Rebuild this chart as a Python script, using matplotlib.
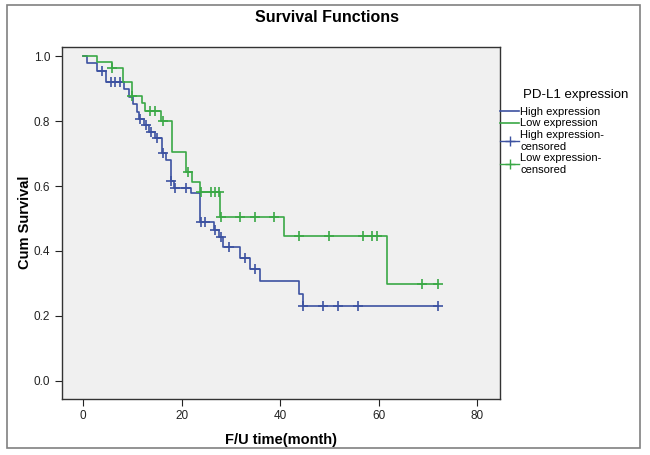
import matplotlib.pyplot as plt
import numpy as np
from matplotlib.lines import Line2D
from matplotlib.patches import Rectangle

plt.rcParams['font.family'] = ['Liberation Sans', 'DejaVu Sans']

# Kaplan-Meier steps (time in months, cumulative survival)
high_t = [0, 0.7, 2.9, 4.6, 8.2, 9.2, 10.2, 10.9, 11.4, 12.4, 13.3, 14.5, 15.9, 16.8,
          17.9, 18.5, 21.9, 23.8, 26.5, 27.5, 28.4, 31.9, 33.8, 35.8, 43.7, 44.6]
high_s = [1.0, 0.978, 0.955, 0.921, 0.898, 0.875, 0.852, 0.829, 0.806, 0.788, 0.767, 0.748,
          0.703, 0.681, 0.616, 0.593, 0.578, 0.488, 0.466, 0.444, 0.411, 0.378, 0.345,
          0.306, 0.268, 0.229]
high_cens = [3.9, 5.6, 6.5, 7.4, 11.6, 12.8, 13.8, 15.0, 16.2, 17.9, 18.7, 20.9, 23.9,
             24.8, 26.8, 27.9, 29.5, 32.9, 34.8, 44.7, 48.7, 51.7, 55.7, 72.0]

low_t = [0, 2.9, 5.8, 8.0, 9.9, 11.9, 12.6, 15.7, 18.0, 20.9, 22.1, 23.6, 27.8, 40.8, 61.7]
low_s = [1.0, 0.983, 0.965, 0.921, 0.878, 0.855, 0.832, 0.80, 0.706, 0.644, 0.613,
         0.581, 0.504, 0.447, 0.298]
low_cens = [5.9, 10.0, 13.6, 14.6, 16.1, 21.2, 23.9, 26.0, 26.8, 27.5, 27.9, 31.8, 34.8,
            38.8, 43.7, 49.8, 56.7, 58.6, 59.6, 68.8, 72.0]

end_time = 72.0
blue = '#3d52a1'
green = '#3aa846'


def surv_at(times, surv, t):
    idx = np.searchsorted(times, t, side='right') - 1
    return np.array(surv)[idx]


fig = plt.figure(figsize=(6.5, 4.55), dpi=100)
ax = fig.add_axes([0.0954, 0.124, 0.674, 0.773])
ax.set_facecolor('#f0f0f0')

for times, surv, cens, col in [(high_t, high_s, high_cens, blue),
                               (low_t, low_s, low_cens, green)]:
    tt = list(times) + [end_time]
    ss = list(surv) + [surv[-1]]
    ax.plot(tt, ss, drawstyle='steps-post', color=col, lw=1.2)
    ax.plot(cens, surv_at(times, surv, cens), ls='none', marker='+', ms=6.5,
            mew=1.2, color=col)

ax.set_xlim(-4.3, 84.6)
ax.set_ylim(-0.055, 1.029)
ax.set_xticks([0, 20, 40, 60, 80])
ax.set_yticks([0.0, 0.2, 0.4, 0.6, 0.8, 1.0])
ax.set_yticklabels(['0.0', '0.2', '0.4', '0.6', '0.8', '1.0'])
ax.tick_params(direction='out', length=5, labelsize=8.5, colors='#222222')
for s in ax.spines.values():
    s.set_color('#333333')
    s.set_linewidth(1.0)

ax.set_xlabel('F/U time(month)', fontsize=10.5, fontweight='bold', labelpad=8)
ax.set_ylabel('Cum Survival', fontsize=10.5, fontweight='bold', labelpad=1)

fig.text(0.503, 0.962, 'Survival Functions', ha='center', va='center',
         fontsize=11.5, fontweight='bold')

# legend, title placed separately
fig.text(0.885, 0.791, 'PD-L1 expression', ha='center', va='center', fontsize=9.5)
handles = [Line2D([], [], color=blue, lw=1.2),
           Line2D([], [], color=green, lw=1.2),
           Line2D([], [], color=blue, lw=1.0, marker='+', ms=7, mew=1.0),
           Line2D([], [], color=green, lw=1.0, marker='+', ms=7, mew=1.0)]
labels = ['High expression', 'Low expression', 'High expression-\ncensored',
          'Low expression-\ncensored']
fig.legend(handles, labels, loc='upper left', bbox_to_anchor=(0.763, 0.775),
           frameon=False, fontsize=8, handlelength=1.7, handletextpad=0.1,
           labelspacing=0.15, borderaxespad=0)

fig.patches.append(Rectangle((0.0108, 0.0154), 0.974, 0.974, transform=fig.transFigure,
                             fill=False, edgecolor='#808080', lw=1.2))

fig.savefig('out.png', dpi=100)
